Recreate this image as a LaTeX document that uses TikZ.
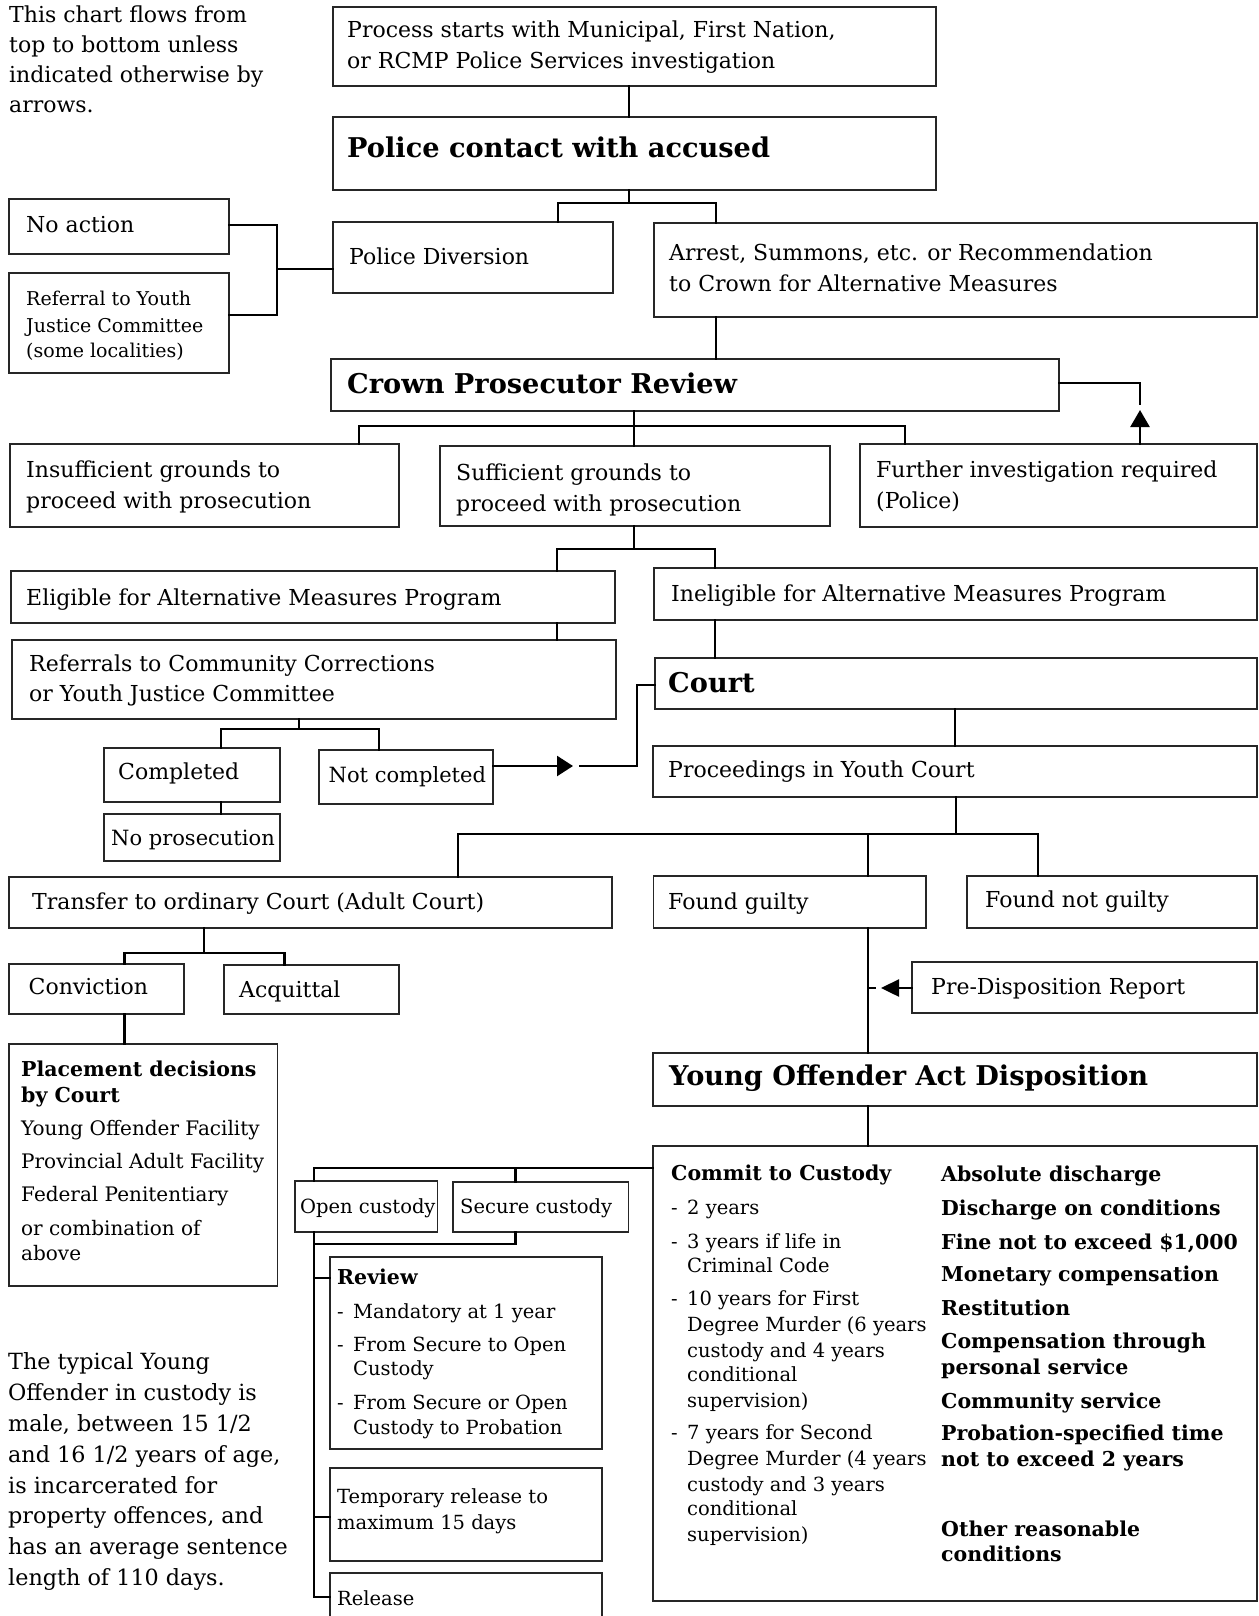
\documentclass[tikz,border=0pt]{standalone}
\usepackage{fontspec}
\setmainfont{DejaVu Serif}
\usetikzlibrary{arrows.meta}

% type sizes (1pt = 1 unit of the drawing)
\newcommand\fr{\fontsize{22}{30}\selectfont}
\newcommand\frn{\fontsize{21}{30}\selectfont}
\newcommand\frl{\fontsize{22.3}{30}\selectfont}
\newcommand\fs{\fontsize{19.5}{25}\selectfont}
\newcommand\fsp{\fontsize{20}{25}\selectfont}
\newcommand\fss{\fontsize{19}{25}\selectfont}
\newcommand\fb{\fontsize{27.2}{30}\selectfont\bfseries}
\newcommand\fbs{\fontsize{20.5}{25}\selectfont\bfseries}

\tikzset{
  panel/.style={draw=black!85, line width=1.6pt, rectangle, inner sep=0pt,
                outer sep=0pt, anchor=north west},
  conn/.style={line width=2.5pt, line join=miter, line cap=rect},
  tx/.style={anchor=mid west, inner sep=0pt, font=\fr, yshift=-6.2pt},
  txn/.style={tx, font=\frn},
  txl/.style={tx, font=\frl},
  ts/.style={anchor=mid west, inner sep=0pt, font=\fs, yshift=-5.2pt},
  tsp/.style={ts, font=\fsp},
  tss/.style={ts, font=\fss},
  tb/.style={anchor=mid west, inner sep=0pt, font=\fb, yshift=-7.7pt},
  tbs/.style={anchor=mid west, inner sep=0pt, font=\fbs, yshift=-5.4pt},
}

% \panelbox{name}{left}{top}{right}{bottom}
\newcommand\panelbox[5]{\node[panel, minimum width={(#4)-(#2)},
  minimum height={(#5)-(#3)}] (#1) at (#2,#3) {};}
% \lab[style]{name}{x}{y}{text}
\newcommand\lab[5][tx]{\node[#1] (#2) at (#3,#4) {#5};}
\newcommand\dash{\makebox[16pt][l]{-}}

\begin{document}
\begin{tikzpicture}[x=1pt, y=-1pt]
\useasboundingbox (0,0) rectangle (1258,1616);

% ---------- boxes ----------
\panelbox{proc}{333}{7}{936}{86}
\panelbox{police}{333}{117}{936}{190}
\panelbox{div}{333}{222}{613}{293}
\panelbox{arr}{654}{223}{1257}{317}
\panelbox{noact}{9}{199}{229}{254}
\panelbox{yjc}{9}{273}{229}{373}
\panelbox{crown}{331}{359}{1059}{411}
\panelbox{insuf}{10}{444}{399}{527}
\panelbox{suff}{440}{446}{830}{526}
\panelbox{further}{860}{444}{1257}{527}
\panelbox{elig}{11}{571}{615}{623}
\panelbox{refs}{12}{640}{616}{719}
\panelbox{comp}{104}{748}{280}{802}
\panelbox{nopro}{104}{814}{280}{861}
\panelbox{notc}{319}{750}{493}{804}
\panelbox{inel}{654}{568}{1257}{620}
\panelbox{court}{655}{658}{1257}{709}
\panelbox{yc}{653}{746}{1257}{797}
\panelbox{transfer}{9}{877}{612}{928}
\panelbox{conv}{9}{964}{184}{1014}
\panelbox{acq}{224}{965}{399}{1014}
\panelbox{place}{9}{1044}{277.5}{1286}
\panelbox{fg}{653.5}{876}{926}{928}
\panelbox{fng}{967}{876}{1257}{928}
\panelbox{pdr}{912}{962}{1257}{1013}
\panelbox{yoa}{653}{1053}{1257}{1106}
\panelbox{big}{653}{1146}{1257}{1601}
\panelbox{open}{295}{1181}{437.5}{1232}
\panelbox{secure}{453}{1182}{628.5}{1232}
\panelbox{review}{330}{1257}{602}{1449}
\panelbox{temp}{330}{1468}{602}{1561}
% release box runs off the lower edge: three sides only
\node[panel, draw=none, minimum width=272pt, minimum height=44pt] (release) at (330,1573) {};
\draw[draw=black!85, line width=1.6pt] (release.south west) -- (release.north west)
  -- (release.north east) -- (release.south east);

% ---------- connectors ----------
\draw[conn] (proc.south -| 629,0) -- (police.north -| 629,0);
\draw[conn] (police.south -| 629,0) -- (629,203);
\draw[conn] (div.north -| 558,0) -- (558,203) -- (716,203) -- (arr.north -| 716,0);

\draw[conn] (noact.east |- 0,225) -- (277,225) -- (277,315) -- (yjc.east |- 0,315);
\draw[conn] (277,269) -- (div.west |- 0,269);

\draw[conn] (arr.south -| 716,0) -- (crown.north -| 716,0);

\draw[conn, -{Triangle[length=17pt, width=19pt]}] (further.north -| 1140,0) -- (1140,410);
\draw[conn] (1140,404) -- (1140,383) -- (crown.east |- 0,383);

\draw[conn] (crown.south -| 634,0) -- (suff.north -| 634,0);
\draw[conn] (insuf.north -| 359,0) -- (359,426) -- (905,426) -- (further.north -| 905,0);

\draw[conn] (suff.south -| 634,0) -- (634,549);
\draw[conn] (elig.north -| 557,0) -- (557,549) -- (715,549) -- (inel.north -| 715,0);
\draw[conn] (elig.south -| 557,0) -- (refs.north -| 557,0);

\draw[conn] (refs.south -| 299,0) -- (299,729);
\draw[conn] (comp.north -| 221,0) -- (221,729) -- (379,729) -- (notc.north -| 379,0);
\draw[conn] (comp.south -| 221,0) -- (nopro.north -| 221,0);

\draw[conn, -{Triangle[length=16pt, width=20pt]}] (notc.east |- 0,766) -- (573,766);
\draw[conn] (580,766) -- (637,766) -- (637,685) -- (court.west |- 0,685);

\draw[conn] (inel.south -| 715,0) -- (court.north -| 715,0);
\draw[conn] (court.south -| 955,0) -- (yc.north -| 955,0);

\draw[conn] (yc.south -| 956,0) -- (956,834);
\draw[conn] (transfer.north -| 458,0) -- (458,834) -- (1038,834) -- (fng.north -| 1038,0);
\draw[conn] (868,834) -- (fg.north -| 868,0);

\draw[conn] (transfer.south -| 204,0) -- (204,953);
\draw[conn] (conv.north -| 124.5,0) -- (124.5,953) -- (284.5,953) -- (acq.north -| 284.5,0);
\draw[conn] (conv.south -| 124.5,0) -- (place.north -| 124.5,0);

\draw[conn] (fg.south -| 868,0) -- (yoa.north -| 868,0);
\draw[conn, -{Triangle[length=18pt, width=17pt]}] (pdr.west |- 0,988) -- (881,988);
\draw[conn] (875,988) -- (868,988);

\draw[conn] (yoa.south -| 868,0) -- (big.north -| 868,0);
\draw[conn] (big.west |- 0,1168) -- (314,1168) -- (open.north -| 314,0);
\draw[conn] (515.5,1168) -- (secure.north -| 515.5,0);
\draw[conn] (secure.south -| 515.5,0) -- (515.5,1244) -- (314,1244);
\draw[conn] (open.south -| 314,0) -- (314,1597) -- (release.west |- 0,1597);
\draw[conn] (314,1278) -- (review.west |- 0,1278);
\draw[conn] (314,1517) -- (temp.west |- 0,1517);

% ---------- texts ----------
\lab{noteA}{9}{13.5}{This chart flows from}
\lab{noteB}{9}{44}{top to bottom unless}
\lab{noteC}{9}{74}{indicated otherwise by}
\lab{noteD}{9}{104}{arrows.}

\lab{procA}{347}{29}{Process starts with Municipal, First Nation,}
\lab{procB}{347}{60}{or RCMP Police Services investigation}
\lab[tb]{policeT}{347}{147}{Police contact with accused}
\lab{noactT}{26}{224}{No action}
\lab{divT}{349}{255.5}{Police Diversion}
\lab{arrA}{669}{252}{Arrest, Summons, etc. or Recommendation}
\lab{arrB}{669}{283}{to Crown for Alternative Measures}
\lab[tss]{yjcA}{26}{298}{Referral to Youth}
\lab[tss]{yjcB}{26}{324.5}{Justice Committee}
\lab[tss]{yjcC}{26}{350}{(some localities)}
\lab[tb]{crownT}{347}{383}{Crown Prosecutor Review}
\lab{insufA}{26}{469}{Insufficient grounds to}
\lab{insufB}{26}{500}{proceed with prosecution}
\lab{suffA}{456}{472}{Sufficient grounds to}
\lab{suffB}{456}{503}{proceed with prosecution}
\lab{furtherA}{876}{469}{Further investigation required}
\lab{furtherB}{876}{500}{(Police)}
\lab{eligT}{26}{596.5}{Eligible for Alternative Measures Program}
\lab{inelT}{671}{593}{Ineligible for Alternative Measures Program}
\lab{refsA}{29}{662.5}{Referrals to Community Corrections}
\lab{refsB}{29}{693}{or Youth Justice Committee}
\lab[tb]{courtT}{668}{682}{Court}
\lab{compT}{118}{770.5}{Completed}
\lab[txn]{notcT}{328.5}{773.5}{Not completed}
\lab{ycT}{668}{768.5}{Proceedings in Youth Court}
\lab[txn]{noproT}{111}{836.5}{No prosecution}
\lab{transferT}{32}{900.5}{Transfer to ordinary Court (Adult Court)}
\lab{fgT}{668}{900.5}{Found guilty}
\lab{fngT}{985}{898.5}{Found not guilty}
\lab{convT}{28.5}{986}{Conviction}
\lab{acqT}{239}{989}{Acquittal}
\lab{pdrT}{931}{986}{Pre-Disposition Report}

\lab[tbs]{placeA}{21}{1068}{Placement decisions}
\lab[tbs]{placeB}{21}{1094}{by Court}
\lab[tsp]{placeC}{21}{1128}{Young Offender Facility}
\lab[tsp]{placeD}{21}{1161}{Provincial Adult Facility}
\lab[tsp]{placeE}{21}{1194}{Federal Penitentiary}
\lab[tsp]{placeF}{21}{1228}{or combination of}
\lab[tsp]{placeG}{21}{1253}{above}

\lab[tb]{yoaT}{669}{1075.5}{Young Offender Act Disposition}

\lab[tbs]{commitT}{671}{1172.5}{Commit to Custody}
\lab[ts]{cA}{671}{1206.5}{\dash 2 years}
\lab[ts]{cB}{671}{1240.5}{\dash 3 years if life in}
\lab[ts]{cB2}{687}{1265}{Criminal Code}
\lab[ts]{cC}{671}{1298}{\dash 10 years for First}
\lab[ts]{cC2}{687}{1324}{Degree Murder (6 years}
\lab[ts]{cC3}{687}{1350}{custody and 4 years}
\lab[ts]{cC4}{687}{1374}{conditional}
\lab[ts]{cC5}{687}{1400}{supervision)}
\lab[ts]{cD}{671}{1432}{\dash 7 years for Second}
\lab[ts]{cD2}{687}{1458}{Degree Murder (4 years}
\lab[ts]{cD3}{687}{1483.5}{custody and 3 years}
\lab[ts]{cD4}{687}{1508}{conditional}
\lab[ts]{cD5}{687}{1534}{supervision)}

\lab[tbs]{oA}{941}{1173.5}{Absolute discharge}
\lab[tbs]{oB}{941}{1207.5}{Discharge on conditions}
\lab[tbs]{oC}{941}{1241.5}{Fine not to exceed \$1,000}
\lab[tbs]{oD}{941}{1273.5}{Monetary compensation}
\lab[tbs]{oE}{941}{1307.5}{Restitution}
\lab[tbs]{oF}{941}{1340.5}{Compensation through}
\lab[tbs]{oF2}{941}{1366}{personal service}
\lab[tbs]{oG}{941}{1400}{Community service}
\lab[tbs]{oH}{941}{1432}{Probation-specified time}
\lab[tbs]{oH2}{941}{1458}{not to exceed 2 years}
\lab[tbs]{oI}{941}{1528}{Other reasonable}
\lab[tbs]{oI2}{941}{1553.5}{conditions}

\lab[ts]{openT}{300}{1205.5}{Open custody}
\lab[ts]{secureT}{460}{1205.5}{Secure custody}

\lab[tbs]{reviewT}{337}{1276.5}{Review}
\lab[ts]{rA}{337}{1310.5}{\dash Mandatory at 1 year}
\lab[ts]{rB}{337}{1343.5}{\dash From Secure to Open}
\lab[ts]{rB2}{353}{1368}{Custody}
\lab[ts]{rC}{337}{1402}{\dash From Secure or Open}
\lab[ts]{rC2}{353}{1427}{Custody to Probation}

\lab[ts]{tempA}{337}{1496}{Temporary release to}
\lab[ts]{tempB}{337}{1522}{maximum 15 days}
\lab[ts]{releaseT}{337}{1598}{Release}

\lab[txl]{typA}{8}{1361}{The typical Young}
\lab[txl]{typB}{8}{1392}{Offender in custody is}
\lab[txl]{typC}{8}{1423}{male, between 15 1/2}
\lab[txl]{typD}{8}{1454}{and 16 1/2 years of age,}
\lab[txl]{typE}{8}{1485}{is incarcerated for}
\lab[txl]{typF}{8}{1514.5}{property offences, and}
\lab[txl]{typG}{8}{1545.5}{has an average sentence}
\lab[txl]{typH}{8}{1576.5}{length of 110 days.}
\end{tikzpicture}
\end{document}
